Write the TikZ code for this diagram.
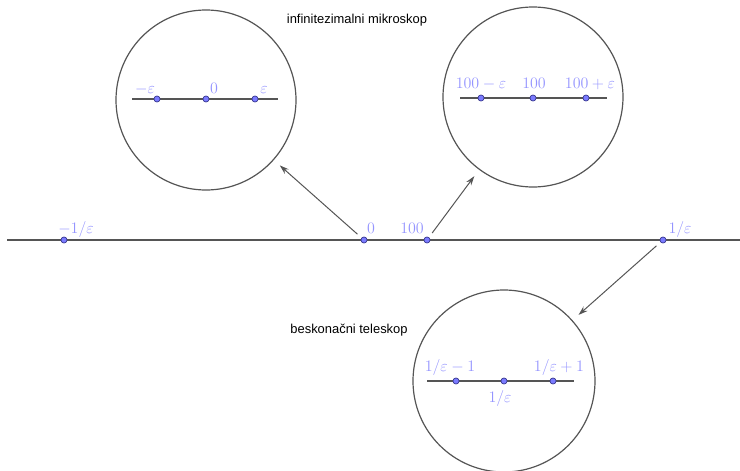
\documentclass[tikz,border=0pt]{standalone}
\usepackage{fontspec}
\setsansfont{Liberation Sans}
\usetikzlibrary{arrows.meta}
\definecolor{ptfill}{HTML}{7B7BFF}
\definecolor{ptline}{HTML}{34348A}
\definecolor{lblblue}{HTML}{9494FF}
\definecolor{lngray}{HTML}{555555}
\begin{document}
\begin{tikzpicture}[x=0.75pt,y=-0.75pt,
  axis/.style={draw=lngray,line width=0.8pt},
  pt/.style={circle,fill=ptfill,draw=ptline,line width=0.5pt,inner sep=0pt,minimum size=4.6pt},
  lbl/.style={text=lblblue,font=\fontsize{12.5}{14}\selectfont,inner sep=0pt,anchor=base},
  lens/.style={circle,draw=lngray,line width=0.9pt,minimum size=135pt,inner sep=0pt},
  arr/.style={draw=lngray,line width=0.75pt,-{Stealth[length=7pt,width=4.5pt]},shorten <=4pt,shorten >=6pt},
  ttl/.style={font=\sffamily\fontsize{9.7}{11}\selectfont,inner sep=0pt,anchor=base}]
\useasboundingbox (0,0) rectangle (740,471);
% lece
\node[lens] (mic) at (206,100) {};
\node[lens] (mac) at (533,97) {};
\node[lens,minimum size=136.5pt] (tel) at (504,381) {};
\node[ttl] (tmic) at (357,23) {infinitezimalni mikroskop};
\node[ttl] (ttel) at (349,333) {beskona\v{c}ni teleskop};
% glavna os
\draw[axis] (7,240) -- (740,240);
\node[pt] (mi) at (64,240) {};
\node[pt] (z0) at (364,240) {};
\node[pt] (st) at (427,240) {};
\node[pt] (in) at (663,240) {};
\node[lbl] (lmi) at (76,233) {$-1/\varepsilon$};
\node[lbl] (lz0) at (371,233) {$0$};
\node[lbl] (lst) at (412,233) {$100$};
\node[lbl] (lin) at (680,233) {$1/\varepsilon$};
% mikroskop oko 0
\draw[axis] (132,99) -- (278,99);
\node[pt] (a1) at (157,99) {};
\node[pt] (a2) at (206,99) {};
\node[pt] (a3) at (255,99) {};
\node[lbl] (la1) at (145,93) {$-\varepsilon$};
\node[lbl] (la2) at (214,93) {$0$};
\node[lbl] (la3) at (264,93) {$\varepsilon$};
% mikroskop oko 100
\draw[axis] (460,98) -- (607,98);
\node[pt] (b1) at (481,98) {};
\node[pt] (b2) at (533,98) {};
\node[pt] (b3) at (586,98) {};
\node[lbl] (lb1) at (481,89) {$100-\varepsilon$};
\node[lbl] (lb2) at (534,89) {$100$};
\node[lbl] (lb3) at (590,89) {$100+\varepsilon$};
% teleskop oko 1/eps
\draw[axis] (427,381) -- (574,381);
\node[pt] (c1) at (456,381) {};
\node[pt] (c2) at (504,381) {};
\node[pt] (c3) at (553,381) {};
\node[lbl] (lc1) at (450,371) {$1/\varepsilon-1$};
\node[lbl] (lc2) at (500,402) {$1/\varepsilon$};
\node[lbl] (lc3) at (559,371) {$1/\varepsilon+1$};
% strelice
\draw[arr] (z0) -- (mic);
\draw[arr] (st) -- (mac);
\draw[arr] (in) -- (tel);
\end{tikzpicture}
\end{document}
